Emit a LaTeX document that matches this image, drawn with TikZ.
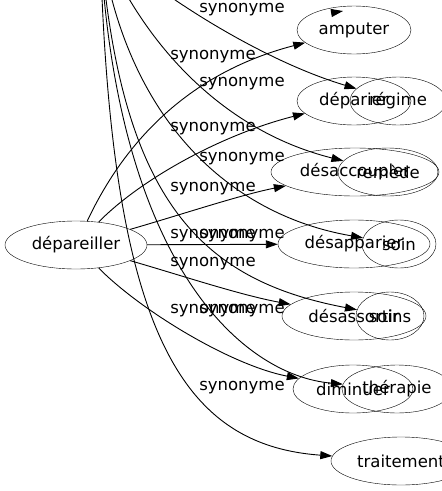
\documentclass[tikz,border=0pt]{standalone}
\usepackage{fontspec}
\setmainfont{DejaVu Sans}
\usetikzlibrary{shapes.geometric,arrows.meta}
\begin{document}
\begin{tikzpicture}[x=1pt,y=-1pt,
  every node/.style={font=\fontsize{16.5}{19}\selectfont},
  mot/.style={draw,ellipse,minimum height=48pt,inner sep=0pt},
  rel/.style={inner sep=0pt},
  arc/.style={-{Triangle[length=12pt,width=8pt]},line width=0.9pt}]
\useasboundingbox (0,0) rectangle (442,491);
\clip (0,0) rectangle (442,491);
\node[mot,minimum width=142pt] (dep) at (76,245) {dépareiller};
\node[mot,minimum width=114pt] (amputer) at (354,30) {amputer};
\node[mot,minimum width=114pt] (deparier) at (354,101) {déparier};
\node[mot,minimum width=168pt] (desaccoupler) at (355,172) {désaccoupler};
\node[mot,minimum width=152pt] (desapparier) at (354,244) {désapparier};
\node[mot,minimum width=144pt] (desassortir) at (354,316) {désassortir};
\node[mot,minimum width=120pt] (diminuer) at (353,389) {diminuer};
\node[mot,minimum width=96pt] (regime) at (398,101) {régime};
\node[mot,minimum width=100pt] (remede) at (388,172) {remède};
\node[mot,minimum width=74pt] (soin) at (399,244) {soin};
\node[mot,minimum width=68pt] (soins) at (390,316) {soins};
\node[mot,minimum width=110pt] (therapie) at (397,389) {thérapie};
\node[mot,minimum width=140pt] (traitement) at (401,461) {traitement};
\coordinate (src) at (100,-60);
\coordinate (pointeA) at (331,13);
\coordinate (pointeB) at (343,11);
\foreach \y [count=\i] in {57,129,189,236,264,311}
  \node[rel] (ra\i) at (213,\y) {synonyme};
\foreach \y [count=\i] in {10,84,159,236,311,388}
  \node[rel] (rb\i) at (242,\y) {synonyme};
\draw[arc] (dep) .. controls (130,130) and (200,70) .. (amputer);
\draw[arc] (dep) .. controls (140,180) and (220,135) .. (deparier);
\draw[arc] (dep) .. controls (180,215) and (240,195) .. (desaccoupler);
\draw[arc] (dep) -- (desapparier);
\draw[arc] (dep) .. controls (180,275) and (240,295) .. (desassortir);
\draw[arc] (dep) .. controls (140,310) and (230,365) .. (diminuer);
\draw[arc] (src) .. controls (150,-10) and (260,60) .. (regime);
\draw[arc] (src) .. controls (140,40) and (220,130) .. (remede);
\draw[arc] (src) .. controls (125,120) and (230,215) .. (soin);
\draw[arc] (src) .. controls (120,200) and (200,280) .. (soins);
\draw[arc] (src) .. controls (115,260) and (240,375) .. (therapie);
\draw[arc] (src) .. controls (110,330) and (180,445) .. (traitement);
\draw[arc] (pointeA) -- (pointeB);
\end{tikzpicture}
\end{document}
